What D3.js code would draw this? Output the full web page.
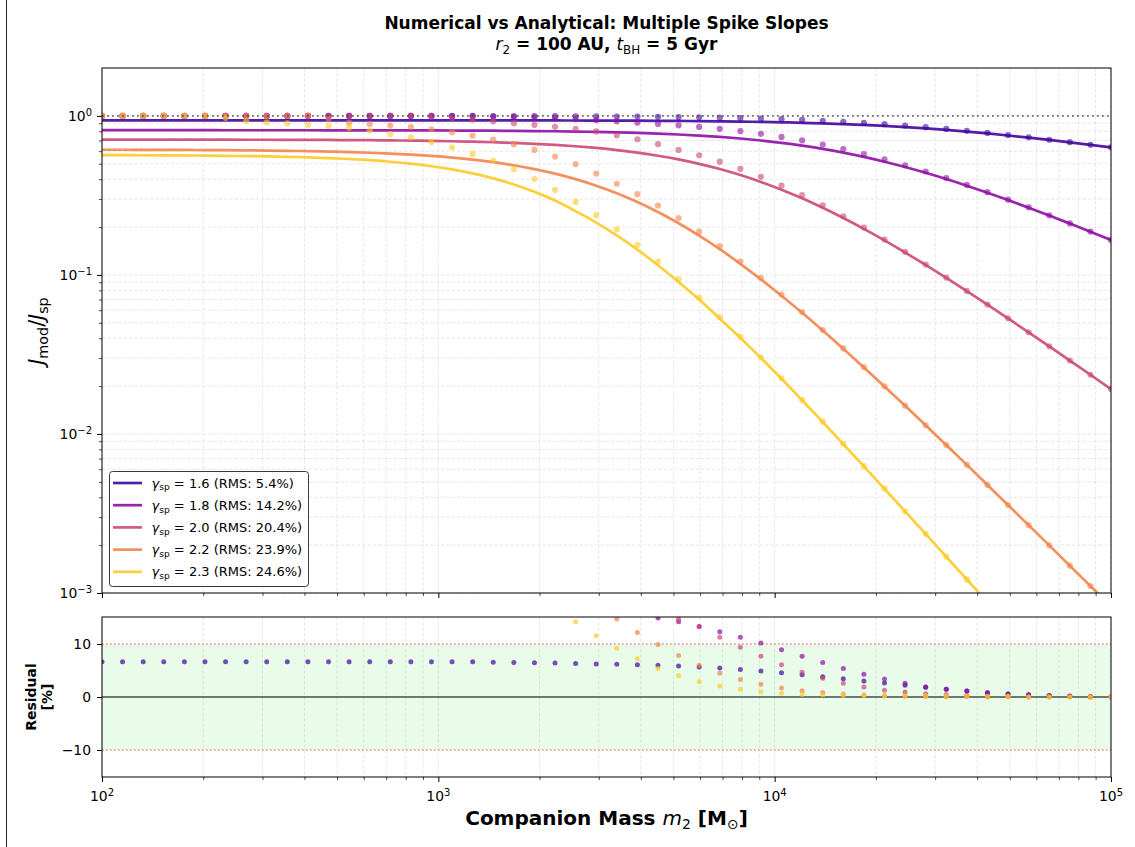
<!DOCTYPE html>
<html>
<head>
<meta charset="utf-8">
<script src="https://cdn.jsdelivr.net/npm/d3@7"></script>
<style>
body { margin: 0; background: #fff; }
svg { font-family: "DejaVu Sans", sans-serif; }
</style>
</head>
<body>
<div id="chart"></div>
<script>
var masses = [100, 115.1, 132.6, 152.6, 175.8, 202.4, 233.0, 268.3, 308.9, 355.6,
    409.5, 471.5, 542.9, 625.1, 719.7, 828.6, 954.1, 1098.5, 1264.9, 1456.3,
    1676.8, 1930.7, 2223.0, 2559.5, 2947.1, 3393.2, 3906.9, 4498.4, 5179.5, 5963.6,
    6866.5, 7906.0, 9103.0, 10481, 12068, 13896, 15999, 18421, 21210, 24421,
    28119, 32375, 37276, 42919, 49417, 56899, 65513, 75431, 86851, 100000];

var gammas = ["1.6", "1.8", "2.0", "2.2", "2.3"];
var rmsLabels = ["5.4%", "14.2%", "20.4%", "23.9%", "24.6%"];

// analytical curves
var ana16 = [0.9378, 0.9378, 0.9378, 0.9378, 0.9378, 0.9378, 0.9378, 0.9378, 0.9378, 0.9378,
    0.9376, 0.9376, 0.9376, 0.9376, 0.9376, 0.9376, 0.9374, 0.9372, 0.9370, 0.9367,
    0.9365, 0.9361, 0.9357, 0.9352, 0.9343, 0.9335, 0.9324, 0.9309, 0.9292, 0.9270,
    0.9243, 0.9206, 0.9164, 0.9111, 0.9049, 0.8970, 0.8880, 0.8770, 0.8646, 0.8500,
    0.8337, 0.8156, 0.7962, 0.7752, 0.7528, 0.7298, 0.7062, 0.6822, 0.6580, 0.6341];
var ana18 = [0.8128, 0.8128, 0.8128, 0.8128, 0.8128, 0.8126, 0.8124, 0.8124, 0.8124, 0.8122,
    0.8120, 0.8118, 0.8116, 0.8113, 0.8109, 0.8104, 0.8098, 0.8091, 0.8080, 0.8067,
    0.8050, 0.8030, 0.8004, 0.7971, 0.7931, 0.7880, 0.7815, 0.7736, 0.7638, 0.7520,
    0.7378, 0.7206, 0.7002, 0.6770, 0.6503, 0.6204, 0.5875, 0.5522, 0.5149, 0.4769,
    0.4385, 0.4006, 0.3638, 0.3285, 0.2954, 0.2647, 0.2363, 0.2103, 0.1870, 0.1659];
var ana20 = [0.7092, 0.7092, 0.7090, 0.7089, 0.7087, 0.7086, 0.7082, 0.7079, 0.7076, 0.7069,
    0.7063, 0.7055, 0.7043, 0.7031, 0.7013, 0.6990, 0.6963, 0.6928, 0.6883, 0.6828,
    0.6759, 0.6674, 0.6569, 0.6440, 0.6284, 0.6097, 0.5876, 0.5617, 0.5322, 0.4993,
    0.4631, 0.4244, 0.3842, 0.3434, 0.3031, 0.2644, 0.2280, 0.1949, 0.1649, 0.1384,
    0.1155, 0.09579, 0.07907, 0.06501, 0.05329, 0.04358, 0.03557, 0.02895, 0.02357, 0.01915];
var ana22 = [0.6125, 0.6122, 0.6118, 0.6112, 0.6105, 0.6095, 0.6084, 0.6070, 0.6052, 0.6030,
    0.6001, 0.5965, 0.5920, 0.5864, 0.5793, 0.5706, 0.5598, 0.5467, 0.5308, 0.5117,
    0.4891, 0.4630, 0.4331, 0.4000, 0.3641, 0.3262, 0.2872, 0.2485, 0.2112, 0.1765,
    0.1451, 0.1174, 0.09376, 0.07396, 0.05775, 0.04468, 0.03431, 0.02618, 0.01988, 0.01503,
    0.01133, 0.008514, 0.006392, 0.004782, 0.003574, 0.002671, 0.001993, 0.001485, 0.001107, 0.000825];
var ana23 = [0.5667, 0.5662, 0.5657, 0.5649, 0.5640, 0.5627, 0.5611, 0.5591, 0.5565, 0.5531,
    0.5486, 0.5430, 0.5358, 0.5265, 0.5149, 0.5003, 0.4823, 0.4606, 0.4346, 0.4046,
    0.3704, 0.3331, 0.2936, 0.2518, 0.2133, 0.1770, 0.1442, 0.1151, 0.09036, 0.06998,
    0.05309, 0.04018, 0.03006, 0.02223, 0.01629, 0.01189, 0.008630, 0.006252, 0.004519, 0.003258,
    0.002350, 0.001690, 0.001216, 0.000875, 0.000630, 0.000453, 0.000326, 0.000234, 0.000169, 0.000121];

// numerical points
var num16 = [1.000, 1.000, 1.000, 1.000, 1.000, 1.000, 1.000, 1.000, 1.000, 1.000,
    1.000, 1.000, 1.000, 1.000, 1.000, 1.000, 0.9997, 0.9995, 0.9993, 0.9983,
    0.9976, 0.9966, 0.9956, 0.9944, 0.9927, 0.9912, 0.9893, 0.9866, 0.9835, 0.9797,
    0.9747, 0.9685, 0.9615, 0.9528, 0.9431, 0.9314, 0.9185, 0.9035, 0.8873, 0.8689,
    0.8490, 0.8274, 0.8051, 0.7816, 0.7572, 0.7326, 0.7079, 0.6831, 0.6584, 0.6342];
var num18 = [1.000, 1.000, 1.000, 1.000, 1.000, 1.000, 1.000, 1.000, 1.000, 1.000,
    1.000, 1.000, 1.000, 1.000, 1.000, 1.000, 1.000, 0.9977, 0.9954, 0.9908,
    0.9840, 0.9750, 0.9638, 0.9528, 0.9397, 0.9247, 0.9078, 0.8889, 0.8723, 0.8520,
    0.8285, 0.8020, 0.7716, 0.7373, 0.7004, 0.6607, 0.6192, 0.5759, 0.5324, 0.4893,
    0.4468, 0.4064, 0.3679, 0.3312, 0.2971, 0.2659, 0.2370, 0.2107, 0.1872, 0.1660];
var num20 = [1.000, 1.000, 1.000, 1.000, 1.000, 1.000, 1.000, 1.000, 1.000, 1.000,
    1.000, 1.000, 1.000, 1.000, 1.000, 1.000, 0.9863, 0.9683, 0.9484, 0.9247,
    0.8995, 0.8770, 0.8531, 0.8279, 0.7980, 0.7551, 0.7129, 0.6637, 0.6104, 0.5657,
    0.5154, 0.4643, 0.4138, 0.3643, 0.3173, 0.2737, 0.2339, 0.1986, 0.1670, 0.1397,
    0.1162, 0.09621, 0.07931, 0.06514, 0.05336, 0.04361, 0.03559, 0.02896, 0.02357, 0.01915];
var num22 = [1.000, 1.000, 1.000, 1.000, 1.000, 1.000, 1.000, 1.000, 1.000, 1.000,
    1.000, 0.9550, 0.9078, 0.8892, 0.8690, 0.8511, 0.8241, 0.7889, 0.7516, 0.7096,
    0.6622, 0.6109, 0.5546, 0.4966, 0.4335, 0.3742, 0.3222, 0.2731, 0.2277, 0.1871,
    0.1516, 0.1213, 0.09601, 0.07522, 0.05844, 0.04505, 0.03451, 0.02628, 0.01993, 0.01506,
    0.01134, 0.008520, 0.006395, 0.004783, 0.003575, 0.002671, 0.001993, 0.001485, 0.001107, 0.000825];
var num23 = [1.000, 1.000, 1.000, 1.000, 1.000, 1.000, 0.9727, 0.9311, 0.9120, 0.8974,
    0.8770, 0.8630, 0.8433, 0.8072, 0.7691, 0.7328, 0.6855, 0.6324, 0.5768, 0.5224,
    0.4624, 0.4018, 0.3428, 0.2876, 0.2380, 0.1933, 0.1546, 0.1213, 0.09397, 0.07201,
    0.05420, 0.04077, 0.03036, 0.02239, 0.01637, 0.01194, 0.008656, 0.006268, 0.004528, 0.003264,
    0.002354, 0.001692, 0.001217, 0.000876, 0.000631, 0.000453, 0.000326, 0.000234, 0.000169, 0.000121];

var xTicks = [1e2, 1e3, 1e4, 1e5];
var yTicksMain = [1e-3, 1e-2, 1e-1, 1];
var residTicks = [-10, 0, 10];

var width = 1135, height = 847;
var colors = ["#41049d", "#8f0da4", "#cc4778", "#f2844b", "#fdca26"];
var anaAll = [ana16, ana18, ana20, ana22, ana23];
var numAll = [num16, num18, num20, num22, num23];

var series = gammas.map(function(g, i) {
    return {
        gamma: g, rms: rmsLabels[i], color: colors[i],
        pts: masses.map(function(m, k) {
            return { m: m, ana: anaAll[i][k], num: numAll[i][k],
                     res: (numAll[i][k] - anaAll[i][k]) / anaAll[i][k] * 100 };
        })
    };
});

var svg = d3.select("#chart").append("svg")
    .attr("width", width).attr("height", height);

// left edge line of the figure
svg.append("line").attr("x1", 6.5).attr("x2", 6.5).attr("y1", 0).attr("y2", height)
    .attr("stroke", "#222").attr("stroke-width", 1);

var x = d3.scaleLog().domain([1e2, 1e5]).range([102, 1111]);
var yMain = d3.scaleLog().domain([1e-3, 2]).range([593, 68]);
var yRes = d3.scaleLinear().domain([-15.1, 15.1]).range([777, 617]);

function minorLog(lo, hi) {
    var out = [];
    for (var p = Math.floor(Math.log10(lo)); p < Math.ceil(Math.log10(hi)); p++) {
        for (var m = 2; m < 10; m++) {
            var v = m * Math.pow(10, p);
            if (v > lo * 1.0001 && v < hi * 0.9999) out.push(v);
        }
    }
    return out;
}
var xMinor = minorLog(1e2, 1e5);
var yMinor = minorLog(1e-3, 2);

var defs = svg.append("defs");
defs.append("clipPath").attr("id", "clip-main").append("rect")
    .attr("x", 102).attr("y", 68).attr("width", 1009).attr("height", 525);
defs.append("clipPath").attr("id", "clip-res").append("rect")
    .attr("x", 102).attr("y", 617).attr("width", 1009).attr("height", 160);

function gridStyle(sel) {
    sel.attr("stroke", "#b0b0b0").attr("stroke-opacity", 0.35)
        .attr("stroke-width", 0.8).attr("stroke-dasharray", "3.7,1.6");
}

// ---------- main panel ----------
var main = svg.append("g");
var gridMain = main.append("g");
gridMain.selectAll("line.v").data(xTicks.concat(xMinor)).enter().append("line")
    .attr("x1", function(d) { return x(d); }).attr("x2", function(d) { return x(d); })
    .attr("y1", 68).attr("y2", 593).call(gridStyle);
gridMain.selectAll("line.h").data(yTicksMain.concat(yMinor)).enter().append("line")
    .attr("y1", function(d) { return yMain(d); }).attr("y2", function(d) { return yMain(d); })
    .attr("x1", 102).attr("x2", 1111).call(gridStyle);

var line = d3.line()
    .x(function(d) { return x(d.m); })
    .y(function(d) { return yMain(d.ana); })
    .curve(d3.curveMonotoneX);

var plotMain = main.append("g").attr("clip-path", "url(#clip-main)");
series.forEach(function(s) {
    plotMain.append("path").datum(s.pts)
        .attr("d", line)
        .attr("fill", "none")
        .attr("stroke", s.color)
        .attr("stroke-opacity", 0.9)
        .attr("stroke-width", 2.7);
    plotMain.selectAll(null).data(s.pts).enter().append("circle")
        .attr("cx", function(d) { return x(d.m); })
        .attr("cy", function(d) { return yMain(d.num); })
        .attr("r", 3.1)
        .attr("fill", s.color)
        .attr("fill-opacity", 0.6);
});

// reference line J = 1
plotMain.append("line")
    .attr("x1", 102).attr("x2", 1111)
    .attr("y1", yMain(1)).attr("y2", yMain(1))
    .attr("stroke", "#444").attr("stroke-opacity", 0.75)
    .attr("stroke-width", 1.8).attr("stroke-dasharray", "1.8,3.2");

main.append("rect").attr("x", 102).attr("y", 68).attr("width", 1009).attr("height", 525)
    .attr("fill", "none").attr("stroke", "#000").attr("stroke-width", 1);

function tickMarks(g, axis, w) {
    g.call(axis);
    g.select(".domain").remove();
    g.selectAll("line").attr("stroke", "#000").attr("stroke-width", w);
    g.selectAll("text").remove();
}

tickMarks(main.append("g").attr("transform", "translate(0,593)"),
    d3.axisBottom(x).tickValues(xTicks).tickSize(5).tickFormat(""), 1);
tickMarks(main.append("g").attr("transform", "translate(0,593)"),
    d3.axisBottom(x).tickValues(xMinor).tickSize(3).tickFormat(""), 0.7);
tickMarks(main.append("g").attr("transform", "translate(102,0)"),
    d3.axisLeft(yMain).tickValues(yTicksMain).tickSize(5).tickFormat(""), 1);
tickMarks(main.append("g").attr("transform", "translate(102,0)"),
    d3.axisLeft(yMain).tickValues(yMinor).tickSize(3).tickFormat(""), 0.7);

function powLabel(sel, v) {
    var e = Math.round(Math.log10(v));
    sel.append("tspan").text("10");
    sel.append("tspan").attr("dy", "-0.45em").attr("font-size", "0.72em")
        .text(e < 0 ? "\u2212" + (-e) : String(e));
}

main.selectAll("text.ytick").data(yTicksMain).enter().append("text")
    .attr("x", 92).attr("y", function(d) { return yMain(d) + 5; })
    .attr("text-anchor", "end").attr("font-size", 13.9).attr("fill", "#000")
    .each(function(d) { powLabel(d3.select(this), d); });

// y label
var yl = main.append("text")
    .attr("transform", "translate(44,331) rotate(-90)")
    .attr("text-anchor", "middle").attr("font-size", 20.5);
yl.append("tspan").attr("font-style", "italic").text("J");
yl.append("tspan").attr("font-size", "0.7em").attr("dy", "0.3em").text("mod");
yl.append("tspan").attr("dy", "-0.21em").text("/");
yl.append("tspan").attr("font-style", "italic").text("J");
yl.append("tspan").attr("font-size", "0.7em").attr("dy", "0.3em").text("sp");

// legend
var legend = main.append("g");
legend.append("rect").attr("x", 109.5).attr("y", 471.5).attr("width", 199).attr("height", 115)
    .attr("rx", 3).attr("fill", "#fff").attr("fill-opacity", 0.85)
    .attr("stroke", "#222").attr("stroke-width", 0.9);
series.forEach(function(s, i) {
    var ly = 483 + i * 22.2;
    legend.append("line").attr("x1", 113).attr("x2", 142).attr("y1", ly).attr("y2", ly)
        .attr("stroke", s.color).attr("stroke-opacity", 0.9).attr("stroke-width", 2.7);
    var t = legend.append("text").attr("x", 151.5).attr("y", ly + 4.6)
        .attr("font-size", 13).attr("fill", "#000");
    t.append("tspan").attr("font-style", "italic").text("\u03b3");
    t.append("tspan").attr("font-size", "0.7em").attr("dy", "0.3em").text("sp");
    t.append("tspan").attr("dy", "-0.21em").text(" = " + s.gamma + " (RMS: " + s.rms + ")");
});

// title
svg.append("text").attr("x", 606.5).attr("y", 29).attr("text-anchor", "middle")
    .attr("font-size", 17).attr("font-weight", "bold").text("Numerical vs Analytical: Multiple Spike Slopes");
var t2 = svg.append("text").attr("x", 606.5).attr("y", 50).attr("text-anchor", "middle")
    .attr("font-size", 17).attr("font-weight", "bold");
t2.append("tspan").attr("font-style", "italic").attr("font-weight", "normal").text("r");
t2.append("tspan").attr("font-weight", "normal").attr("font-size", "0.7em").attr("dy", "0.3em").text("2");
t2.append("tspan").attr("dy", "-0.21em").text(" = 100 AU, ");
t2.append("tspan").attr("font-style", "italic").attr("font-weight", "normal").text("t");
t2.append("tspan").attr("font-weight", "normal").attr("font-size", "0.7em").attr("dy", "0.3em").text("BH");
t2.append("tspan").attr("dy", "-0.21em").text(" = 5 Gyr");

// ---------- residual panel ----------
var res = svg.append("g");
res.append("g").selectAll("line").data(xTicks.concat(xMinor)).enter().append("line")
    .attr("x1", function(d) { return x(d); }).attr("x2", function(d) { return x(d); })
    .attr("y1", 617).attr("y2", 777).call(gridStyle);

res.append("rect").attr("x", 102).attr("width", 1009)
    .attr("y", yRes(10)).attr("height", yRes(-10) - yRes(10))
    .attr("fill", "#90ee90").attr("fill-opacity", 0.2);

[10, -10].forEach(function(v) {
    res.append("line").attr("x1", 102).attr("x2", 1111)
        .attr("y1", yRes(v)).attr("y2", yRes(v))
        .attr("stroke", "red").attr("stroke-opacity", 0.5)
        .attr("stroke-width", 1.5).attr("stroke-dasharray", "1.5,2.5");
});
res.append("line").attr("x1", 102).attr("x2", 1111)
    .attr("y1", yRes(0)).attr("y2", yRes(0))
    .attr("stroke", "#000").attr("stroke-opacity", 0.7).attr("stroke-width", 1.6);

var plotRes = res.append("g").attr("clip-path", "url(#clip-res)");
series.forEach(function(s) {
    plotRes.selectAll(null).data(s.pts).enter().append("circle")
        .attr("cx", function(d) { return x(d.m); })
        .attr("cy", function(d) { return yRes(d.res); })
        .attr("r", 2.5)
        .attr("fill", s.color)
        .attr("fill-opacity", 0.7);
});

res.append("rect").attr("x", 102).attr("y", 617).attr("width", 1009).attr("height", 160)
    .attr("fill", "none").attr("stroke", "#000").attr("stroke-width", 1);

tickMarks(res.append("g").attr("transform", "translate(0,777)"),
    d3.axisBottom(x).tickValues(xTicks).tickSize(5).tickFormat(""), 1);
tickMarks(res.append("g").attr("transform", "translate(0,777)"),
    d3.axisBottom(x).tickValues(xMinor).tickSize(3).tickFormat(""), 0.7);
tickMarks(res.append("g").attr("transform", "translate(102,0)"),
    d3.axisLeft(yRes).tickValues(residTicks).tickSize(5).tickFormat(""), 1);

res.selectAll("text.xtick").data(xTicks).enter().append("text")
    .attr("x", function(d) { return x(d); }).attr("y", 800.5)
    .attr("text-anchor", "middle").attr("font-size", 13.9).attr("fill", "#000")
    .each(function(d) { powLabel(d3.select(this), d); });

res.selectAll("text.rtick").data(residTicks).enter().append("text")
    .attr("x", 91).attr("y", function(d) { return yRes(d) + 5; })
    .attr("text-anchor", "end").attr("font-size", 13.9).attr("fill", "#000")
    .text(function(d) { return d < 0 ? "\u2212" + (-d) : String(d); });

var rl = res.append("text").attr("transform", "translate(36,697) rotate(-90)")
    .attr("text-anchor", "middle").attr("font-size", 14).attr("font-weight", "bold");
rl.append("tspan").attr("x", 0).attr("y", 0).text("Residual");
rl.append("tspan").attr("x", 0).attr("y", 15.5).text("[%]");

// x label
var xl = svg.append("text").attr("x", 606.5).attr("y", 825).attr("text-anchor", "middle")
    .attr("font-size", 20).attr("font-weight", "bold");
xl.append("tspan").text("Companion Mass ");
xl.append("tspan").attr("font-style", "italic").attr("font-weight", "normal").text("m");
xl.append("tspan").attr("font-weight", "normal").attr("font-size", "0.7em").attr("dy", "0.3em").text("2");
xl.append("tspan").attr("dy", "-0.21em").text(" [M");
xl.append("tspan").attr("font-weight", "normal").attr("font-size", "0.7em").attr("dy", "0.3em").text("\u2299");
xl.append("tspan").attr("dy", "-0.21em").text("]");
</script>
</body>
</html>
